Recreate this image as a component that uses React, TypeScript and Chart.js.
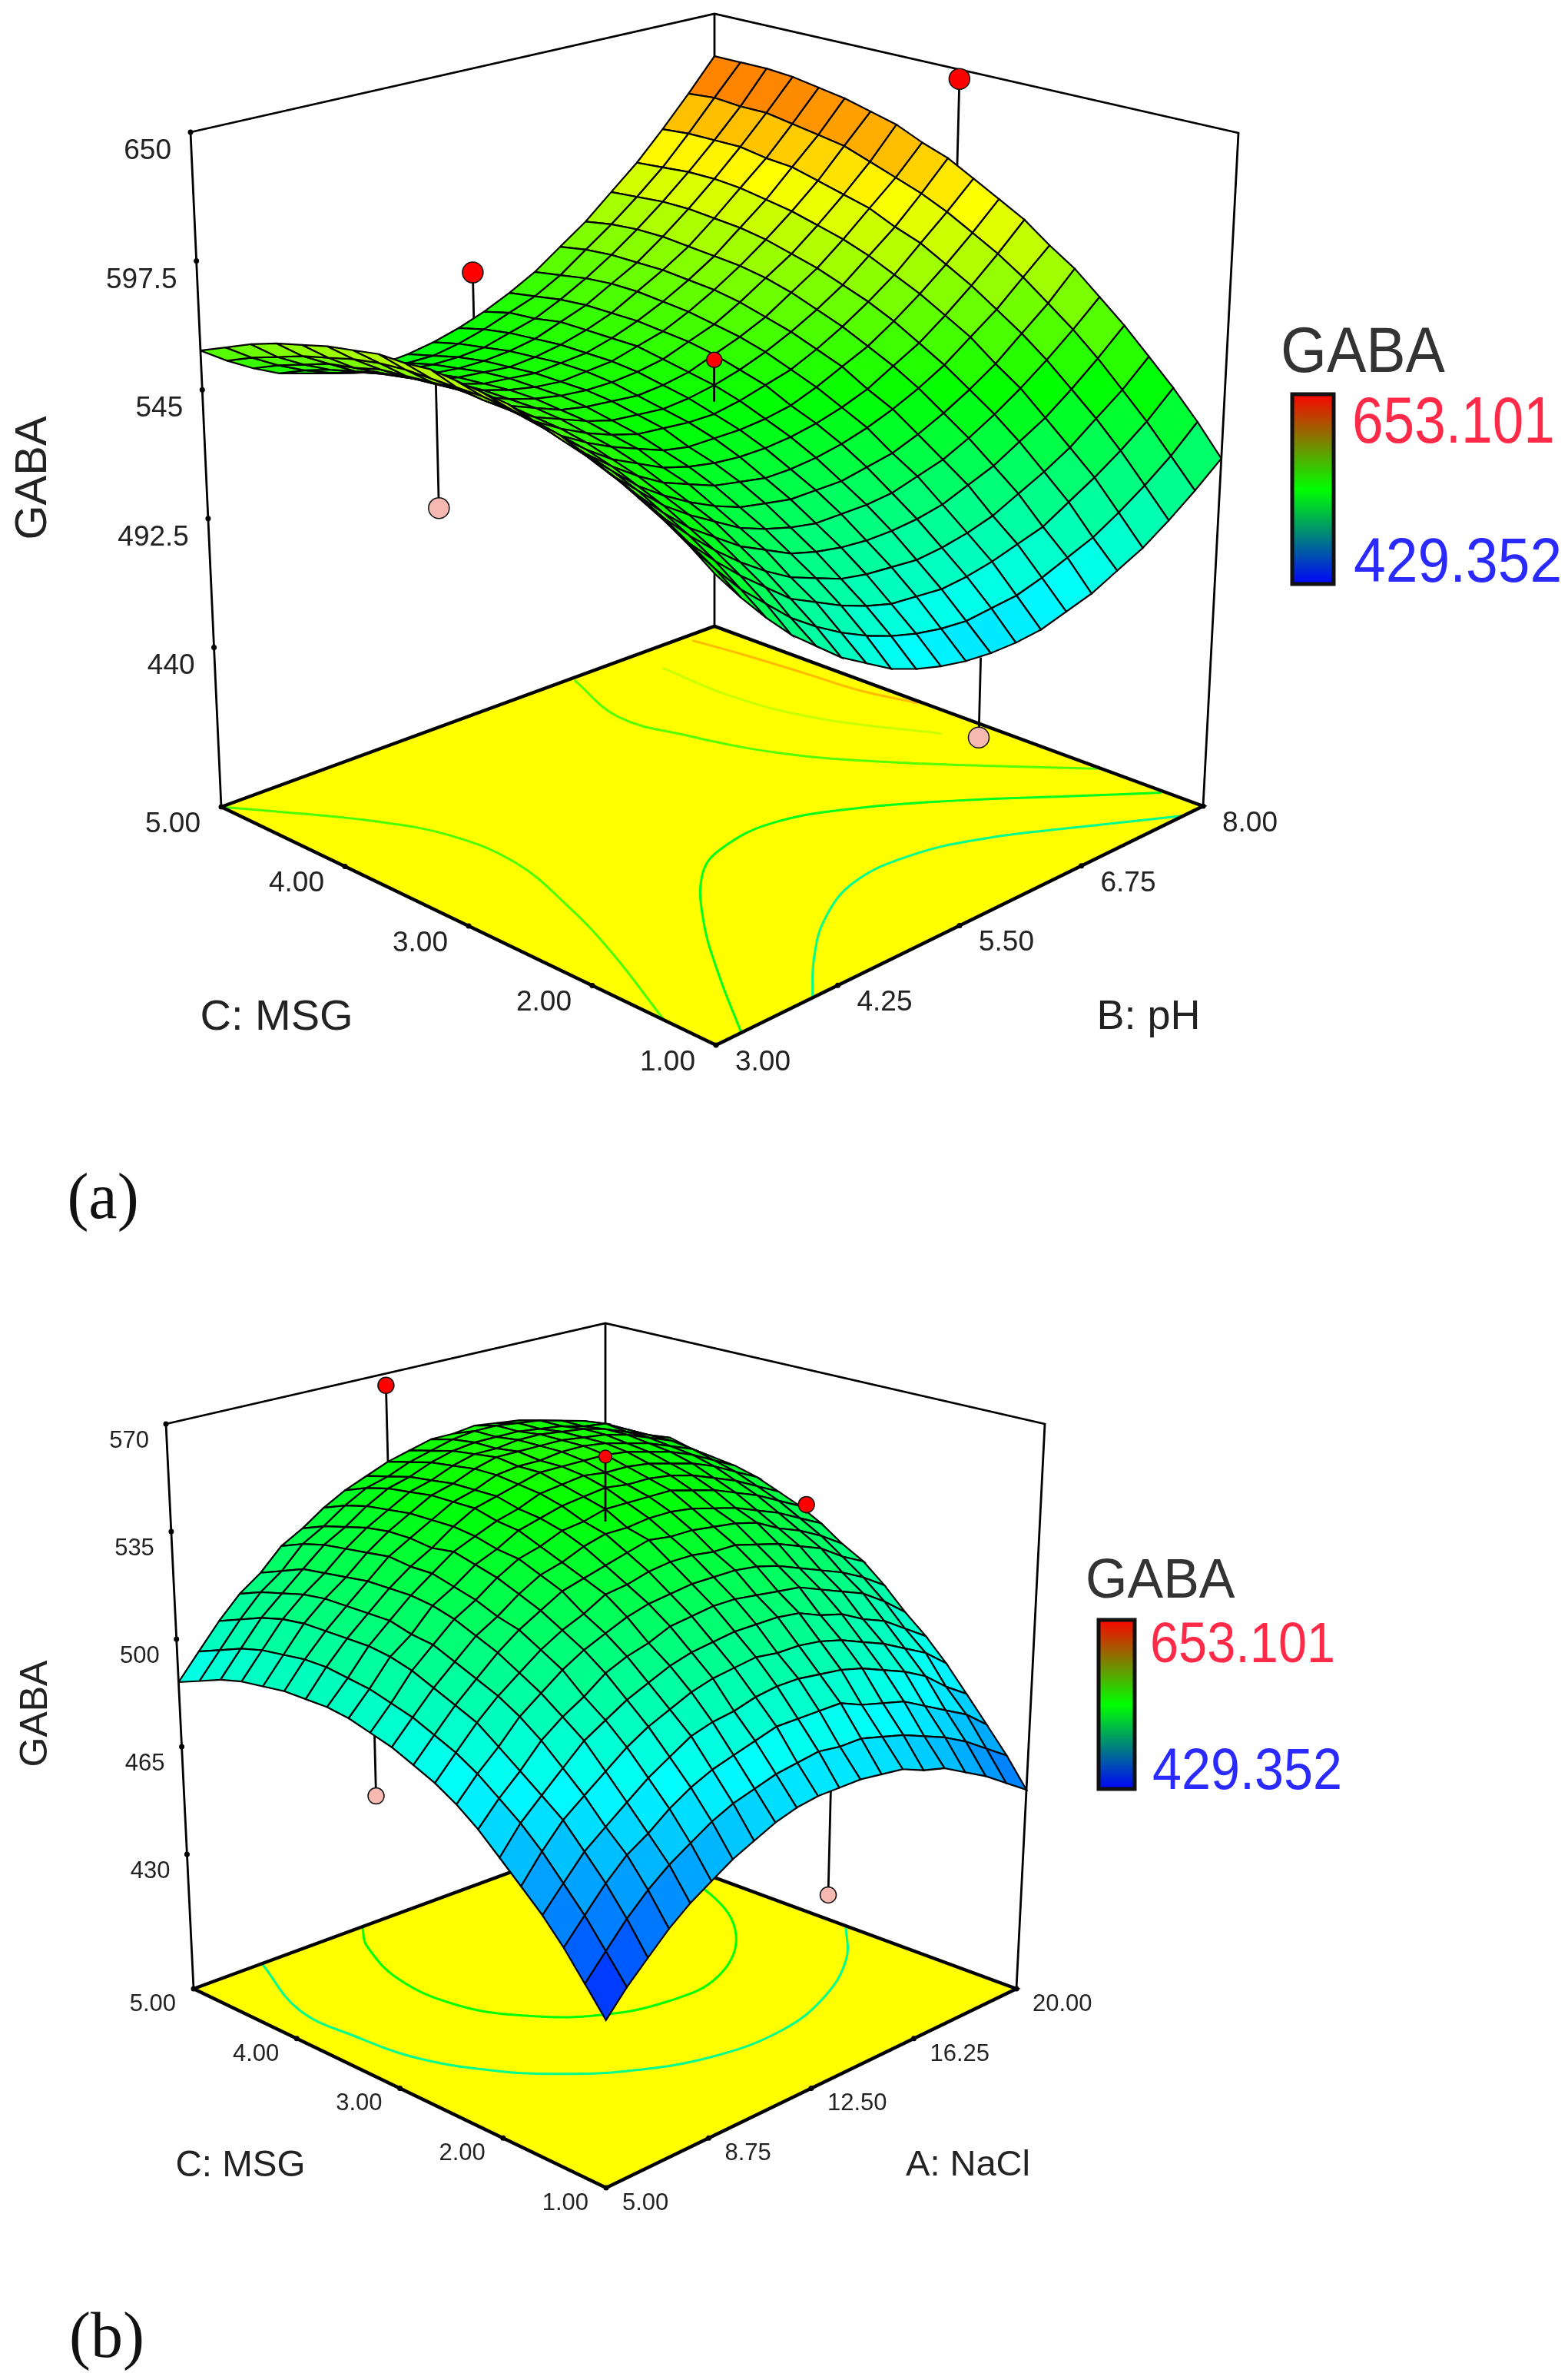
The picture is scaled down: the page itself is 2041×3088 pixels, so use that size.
import React, { useEffect, useRef } from "react";
import { Chart, registerables } from "chart.js";

Chart.register(...registerables);

// GABA over pH (columns, 3 to 8) and MSG (rows, 5 to 1)
const GABA_PH_MSG: number[][] = [
[561,554,548,543,540,537,536,535,536,538,541,545,550,556,564,572,582,592,604,617,631],
[566,559,553,548,544,541,540,539,539,541,544,548,552,558,566,574,583,593,605,618,631],
[571,563,557,552,548,545,543,542,542,543,546,549,554,560,567,575,584,594,605,617,631],
[575,567,561,555,551,547,545,544,544,545,547,551,555,561,567,575,584,594,605,617,630],
[578,570,563,558,553,549,547,546,545,546,548,551,555,561,567,574,583,593,603,615,628],
[581,573,566,560,555,551,548,547,546,547,548,551,555,560,566,573,582,591,602,613,626],
[583,575,567,561,556,552,549,547,546,547,548,551,554,559,565,572,580,589,599,611,623],
[585,576,568,562,556,552,549,547,546,546,547,549,553,557,563,570,577,586,596,607,620],
[585,576,569,562,556,552,548,546,545,544,545,547,551,555,560,567,574,583,593,603,615],
[586,576,568,561,555,551,547,544,543,542,543,545,548,552,557,563,570,579,588,599,611],
[585,576,568,560,554,549,545,542,541,540,540,542,545,548,553,559,566,574,584,594,605],
[584,575,566,558,552,547,543,539,537,537,537,538,540,544,549,554,561,569,578,588,599],
[583,573,564,556,549,544,539,536,534,533,533,534,536,539,543,549,555,563,572,582,593],
[580,570,561,553,546,540,536,532,530,528,528,529,531,534,538,543,549,557,565,575,585],
[578,567,558,549,542,536,531,527,525,523,523,523,525,527,531,536,542,549,558,567,578],
[574,563,554,545,538,532,526,522,519,517,517,517,518,521,524,529,535,542,550,559,569],
[570,559,549,540,533,526,521,516,513,511,510,510,511,513,517,521,527,533,541,550,560],
[565,554,544,535,527,520,514,510,506,504,503,502,503,505,508,513,518,524,532,540,550],
[560,548,538,529,521,513,508,503,499,496,495,494,495,497,500,503,509,515,522,530,540],
[554,542,531,522,513,506,500,495,491,488,486,485,486,487,490,494,498,504,511,519,529],
[547,535,524,514,506,498,492,486,482,479,477,476,476,477,480,483,488,493,500,508,517],
];

// GABA over NaCl (columns, 5 to 20) and MSG (rows, 5 to 1)
const GABA_NACL_MSG: number[][] = [
[486,494,502,509,514,521,525,530,534,537,540,542,544,544,545,544,543,541,539,537,533],
[489,497,505,512,517,524,528,533,537,539,542,544,546,547,547,546,545,543,541,537,534],
[492,500,508,514,520,526,530,535,539,541,544,546,547,547,547,546,545,543,542,538,534],
[494,502,510,516,521,527,532,536,540,542,545,547,547,548,548,547,546,544,541,538,535],
[495,503,511,517,522,528,533,537,541,543,546,548,548,548,548,547,546,544,541,538,533],
[496,504,511,517,523,529,533,537,541,543,546,547,547,548,548,547,545,543,540,537,532],
[496,504,511,517,523,528,532,537,541,543,545,547,547,547,547,546,544,542,539,535,531],
[496,503,511,517,523,528,533,536,539,541,544,545,546,545,545,544,542,540,537,533,529],
[495,502,510,515,522,526,531,534,538,540,542,543,544,543,543,542,540,537,534,530,526],
[493,500,508,514,520,524,529,533,535,538,539,541,541,541,541,539,537,534,531,527,523],
[491,498,505,511,517,521,526,530,532,535,537,537,538,538,537,535,533,530,527,523,519],
[488,495,502,508,514,519,523,527,529,531,533,535,534,534,533,532,530,526,523,519,514],
[485,492,499,505,510,515,519,522,526,527,529,530,530,529,529,527,525,522,519,514,510],
[481,488,494,501,506,511,515,518,521,523,524,525,525,525,524,522,519,516,513,509,504],
[476,483,489,496,501,505,510,513,515,518,519,520,520,519,518,517,514,511,508,503,497],
[470,478,484,490,496,500,504,507,510,512,513,514,514,514,513,510,508,504,501,496,491],
[464,472,479,484,489,494,498,501,504,506,507,508,507,507,506,504,501,498,494,490,484],
[458,465,472,477,482,487,491,495,497,498,500,501,501,500,499,497,494,491,487,481,476],
[451,458,465,471,475,480,484,487,489,491,493,493,493,493,490,488,486,482,478,474,468],
[443,450,457,463,468,472,476,479,481,483,484,485,484,484,482,480,477,474,470,465,460],
[435,442,448,454,459,463,467,470,473,475,476,476,476,475,474,471,469,465,461,456,451],
];

const LEGEND_MIN = 429.352;
const LEGEND_MAX = 653.101;
const LEGEND_MIN_LABEL = "429.352";
const LEGEND_MAX_LABEL = "653.101";

// contours as [level, [[factor, MSG share], ...]]
const CONTOUR_LEVELS_A = [510, 535, 558, 560, 585, 612];
const CONTOURS_A: number[][][] = [
  [[.198,1],[.285,.917],[.384,.841],[.496,.789],[.616,.788],[.725,.829],[.832,.902],[.96,1]],
  [[.052,1],[.156,.851],[.262,.715],[.366,.611],[.442,.573],[.555,.565],[.678,.621],[.795,.714],[.9,.819],[.995,.919]],
  [[0,0],[.075,.087],[.139,.172],[.188,.274],[.195,.401],[.152,.548],[.093,.697],[0,.895]],
  [[.709,.007],[.66,.145],[.682,.258],[.733,.402],[.818,.541],[.913,.671],[1,.793]],
  [[.834,.061],[.829,.201],[.858,.352],[.939,.525]],
  [[.9385,.0165],[.952,.108],[.963,.217],[.972,.327],[.996,.423]],
];
const CONTOUR_LEVELS_B = [510, 540];
const CONTOURS_B: number[][][] = [
  [[.166,0],[.0835,.172],[.0834,.31],[.106,.443],[.172,.568],[.235,.642],[.329,.721],[.469,.788],[.626,.804],[.77,.764],[.902,.684],[1,.585]],
  [[.41,0],[.359,.061],[.302,.196],[.302,.333],[.353,.439],[.449,.532],[.575,.579],[.706,.569],[.847,.471],[.942,.315],[.97,.15],[.96,0]],
];

// design points: factor share, MSG share, measured, surface under it, radius, front
const POINTS_A = [
  [.53, 0, 563, 543, 13.5, 0],
  [0, .46, 533, 585, 13.5, 0],
  [1, .468, 646, 609, 13.5, 0],
  [.53, 1, 445, 476, 13.5, 0],
  [.5, .5, 562, 545, 10, 1],
];
const POINTS_B = [
  [.5, 0, 566, 540, 10.5, 0],
  [0, .46, 474, 493, 10.5, 0],
  [1, .465, 524, 521, 10.5, 1],
  [.53, 1, 444, 476, 10.5, 0],
  [.5, .5, 562, 541, 8.5, 1],
];

const Z_TICKS_A = ["650", "597.5", "545", "492.5", "440"];
const Z_TICKS_B = ["570", "535", "500", "465", "430"];
const MSG_TICKS = ["5.00", "4.00", "3.00", "2.00", "1.00"];
const PH_TICKS = ["3.00", "4.25", "5.50", "6.75", "8.00"];
const NACL_TICKS = ["5.00", "8.75", "12.50", "16.25", "20.00"];

type P = { x: number; y: number };
const FRAME_A = {
  floor: [[288, 1050], [930, 815], [1566, 1049], [932, 1360]],
  top: [[248, 172], [930, 18], [1612, 173], [930, 380]],
  zFloor: 375, zTop: 650,
};
const FRAME_B = {
  floor: [[252, 2588], [788, 2391], [1323, 2588], [789, 2847]],
  top: [[216, 1853], [788, 1722], [1360, 1853], [788, 2025]],
  zFloor: 386.25, zTop: 570,
};

function bil(q: number[][], f: number, g: number): number[] {
  const a = (1 - f) * (1 - g), b = f * (1 - g), c = f * g, d = (1 - f) * g;
  return [a * q[0][0] + b * q[1][0] + c * q[2][0] + d * q[3][0], a * q[0][1] + b * q[1][1] + c * q[2][1] + d * q[3][1]];
}
function proj(fr: any, f: number, g: number, v: number): P {
  const lo = bil(fr.floor, f, g), hi = bil(fr.top, f, g);
  const s = (v - fr.zFloor) / (fr.zTop - fr.zFloor);
  return { x: lo[0] + (hi[0] - lo[0]) * s, y: lo[1] + (hi[1] - lo[1]) * s };
}
function rainbow(v: number): string {
  const t = Math.min(1, Math.max(0, (v - LEGEND_MIN) / (LEGEND_MAX - LEGEND_MIN))) * 4;
  let r = 0, g = 0, b = 0;
  if (t < 1) { g = t; b = 1; } else if (t < 2) { g = 1; b = 2 - t; } else if (t < 3) { r = t - 2; g = 1; } else { r = 1; g = 4 - t; }
  return `rgb(${Math.round(r * 255)},${Math.round(g * 255)},${Math.round(b * 255)})`;
}
const line = (data: P[], color: string, width: number, extra: any = {}) => ({
  type: "scatter", data, showLine: true, borderColor: color, borderWidth: width, pointRadius: 0, fill: false, tension: 0, ...extra,
});

function buildPanel(fr: any, surface: number[][], contours: number[][][], levels: number[], pts: number[][], zTicks: string[]) {
  const back: any[] = [];
  const fl = (f: number, g: number) => proj(fr, f, g, fr.zFloor);
  const tp = (f: number, g: number) => proj(fr, f, g, fr.zTop);
  back.push(line([fl(0, 0), fl(1, 0), fl(1, 1), fl(0, 1), fl(0, 0)], "#000", 1, { fill: "shape", backgroundColor: "#ffff00" }));
  contours.forEach((c, i) => back.push(line(c.map((p) => fl(p[0], p[1])), rainbow(levels[i]), 3, { tension: 0.4 })));
  back.push(line([fl(0, 0), fl(1, 0), fl(1, 1), fl(0, 1), fl(0, 0)], "#000", 4.5));
  back.push(line([fl(0, 0), tp(0, 0), tp(1, 0), tp(1, 1), fl(1, 1)], "#000", 2.8));
  back.push(line([fl(1, 0), tp(1, 0)], "#000", 2.8));
  const edgeTicks: P[] = [];
  [.25, .5, .75].forEach((s) => { edgeTicks.push(fl(0, s)); edgeTicks.push(fl(s, 1)); });
  edgeTicks.push(fl(0, 0), fl(1, 1), fl(0, 1));
  zTicks.forEach((t) => edgeTicks.push(proj(fr, 0, 0, parseFloat(t))));
  back.push({ type: "scatter", data: edgeTicks, showLine: false, pointRadius: 3.5, backgroundColor: "#000", borderWidth: 0 });

  const marker = (p: number[]) => [
    line([proj(fr, p[0], p[1], p[2]), proj(fr, p[0], p[1], p[3])], "#000", 2.8),
    { type: "scatter", data: [proj(fr, p[0], p[1], p[2])], showLine: false, pointRadius: p[4], borderWidth: 1.5, borderColor: "#111",
      backgroundColor: p[2] > p[3] ? "#ff0000" : "#f6b9b1" },
  ];
  pts.filter((p) => !p[5]).forEach((p) => back.push(...marker(p)));

  const cells: any[] = [];
  const n = surface.length - 1;
  for (let j = 0; j < n; j++) {
    for (let i = 0; i < surface[j].length - 1; i++) {
      const f0 = i / 20, f1 = (i + 1) / 20, g0 = j / n, g1 = (j + 1) / n;
      const a = surface[j][i], b = surface[j][i + 1], c = surface[j + 1][i + 1], d = surface[j + 1][i];
      const q = [proj(fr, f0, g0, a), proj(fr, f1, g0, b), proj(fr, f1, g1, c), proj(fr, f0, g1, d)];
      cells.push({ key: f0 - g0, ds: line([...q, q[0]], "#000", 2.2, { fill: "shape", backgroundColor: rainbow((a + b + c + d) / 4) }) });
    }
  }
  cells.sort((p, q) => q.key - p.key);
  const mid = cells.map((c) => c.ds);
  const front: any[] = [];
  pts.filter((p) => p[5]).forEach((p) => front.push(...marker(p)));
  return [...back, ...mid, ...front];
}

function text(ctx: CanvasRenderingContext2D, s: string, x: number, y: number, size: number, color: string, align: CanvasTextAlign = "center", sy = 1, rot = 0, family = "'Liberation Sans'") {
  ctx.save();
  ctx.translate(x, y);
  if (rot) ctx.rotate(rot);
  ctx.scale(1, sy);
  ctx.font = `${size}px ${family}`;
  ctx.fillStyle = color;
  ctx.textAlign = align;
  ctx.textBaseline = "alphabetic";
  ctx.fillText(s, 0, size * 0.35);
  ctx.restore();
}
function colorBar(ctx: CanvasRenderingContext2D, sx: any, sy: any, l: number, t: number, r: number, b: number) {
  const x0 = sx.getPixelForValue(l), x1 = sx.getPixelForValue(r), y0 = sy.getPixelForValue(t), y1 = sy.getPixelForValue(b);
  const grad = ctx.createLinearGradient(0, y0, 0, y1);
  grad.addColorStop(0, "#ff0000");
  grad.addColorStop(0.5, "#00ff00");
  grad.addColorStop(1, "#0000ff");
  ctx.fillStyle = grad;
  ctx.fillRect(x0, y0, x1 - x0, y1 - y0);
  ctx.strokeStyle = "#111";
  ctx.lineWidth = 5;
  ctx.strokeRect(x0 + 2, y0 + 2, x1 - x0 - 4, y1 - y0 - 4);
}

const labelsPlugin = {
  id: "labels",
  afterDatasetsDraw(chart: any) {
    const ctx = chart.ctx as CanvasRenderingContext2D;
    const { x: sx, y: sy } = chart.scales;
    const ink = "#222";
    const px = (p: P) => ({ x: sx.getPixelForValue(p.x), y: sy.getPixelForValue(p.y) });
    const panel = (fr: any, zt: string[], right: string[], zs: number, fs: number, zdx: number, zdy: number, ldx: number, rdx: number, dy: number) => {
      zt.forEach((t) => {
        const p = px(proj(fr, 0, 0, parseFloat(t)));
        text(ctx, t, p.x + zdx, p.y + zdy, zs, ink, "right");
      });
      MSG_TICKS.forEach((t, i) => {
        const p = px(proj(fr, 0, i / 4, fr.zFloor));
        text(ctx, t, p.x + ldx, p.y + dy, fs, ink, "right");
      });
      right.forEach((t, i) => {
        const p = px(proj(fr, i / 4, 1, fr.zFloor));
        text(ctx, t, p.x + rdx, p.y + dy, fs, ink, "left");
      });
    };
    panel(FRAME_A, Z_TICKS_A, PH_TICKS, 37, 37, -25, 22, -27, 25, 20);
    panel(FRAME_B, Z_TICKS_B, NACL_TICKS, 31, 31, -22, 20, -23, 21, 18);

    const at = (x: number, y: number) => px({ x, y });
    let p = at(360, 1320); text(ctx, "C: MSG", p.x, p.y, 56, ink);
    p = at(1495, 1320); text(ctx, "B: pH", p.x, p.y, 54, ink);
    p = at(40, 622); text(ctx, "GABA", p.x, p.y, 58, ink, "center", 1, -Math.PI / 2);
    p = at(313, 2815); text(ctx, "C: MSG", p.x, p.y, 47.5, ink);
    p = at(1260, 2815); text(ctx, "A: NaCl", p.x, p.y, 47, ink);
    p = at(43, 2230); text(ctx, "GABA", p.x, p.y, 50, ink, "center", 1, -Math.PI / 2);
    p = at(134, 1556); text(ctx, "(a)", p.x, p.y, 84, "#111", "center", 1, 0, "'Liberation Serif'");
    p = at(139, 3038); text(ctx, "(b)", p.x, p.y, 84, "#111", "center", 1, 0, "'Liberation Serif'");

    colorBar(ctx, sx, sy, 1680, 511, 1738, 762);
    p = at(1667, 455); text(ctx, "GABA", p.x, p.y, 77, "#333", "left", 1.09);
    p = at(1760, 546); text(ctx, LEGEND_MAX_LABEL, p.x, p.y, 73, "#ff2a48", "left", 1.18);
    p = at(1762, 729); text(ctx, LEGEND_MIN_LABEL, p.x, p.y, 75, "#2a2aff", "left", 1.08);

    colorBar(ctx, sx, sy, 1428, 2106, 1479, 2330);
    p = at(1413, 2054); text(ctx, "GABA", p.x, p.y, 70, "#333", "left", 1.04);
    p = at(1497, 2137); text(ctx, LEGEND_MAX_LABEL, p.x, p.y, 66.7, "#ff2a48", "left", 1.1);
    p = at(1500, 2301); text(ctx, LEGEND_MIN_LABEL, p.x, p.y, 68.3, "#2a2aff", "left", 1.12);
  },
};

export default function App() {
  const ref = useRef<HTMLCanvasElement>(null);
  useEffect(() => {
    const paint = [
      ...buildPanel(FRAME_A, GABA_PH_MSG, CONTOURS_A, CONTOUR_LEVELS_A, POINTS_A, Z_TICKS_A),
      ...buildPanel(FRAME_B, GABA_NACL_MSG, CONTOURS_B, CONTOUR_LEVELS_B, POINTS_B, Z_TICKS_B),
    ];
    // Chart.js paints the first dataset last
    const datasets = paint.reverse();
    const chart = new Chart(ref.current as HTMLCanvasElement, {
      type: "scatter",
      data: { datasets },
      options: {
        responsive: false,
        animation: false,
        events: [],
        layout: { padding: 0, autoPadding: false },
        elements: { line: { borderCapStyle: "butt", borderJoinStyle: "miter" } },
        plugins: { legend: { display: false }, tooltip: { enabled: false } },
        scales: {
          x: { type: "linear", min: 0, max: 2041, display: false },
          y: { type: "linear", min: 0, max: 3088, reverse: true, display: false },
        },
      },
      plugins: [labelsPlugin],
    } as any);
    return () => chart.destroy();
  }, []);
  return (
    <div style={{ position: "absolute", left: 0, top: 0, width: 2041, height: 3088 }}>
      <canvas ref={ref} width={2041} height={3088} style={{ display: "block" }} />
    </div>
  );
}
